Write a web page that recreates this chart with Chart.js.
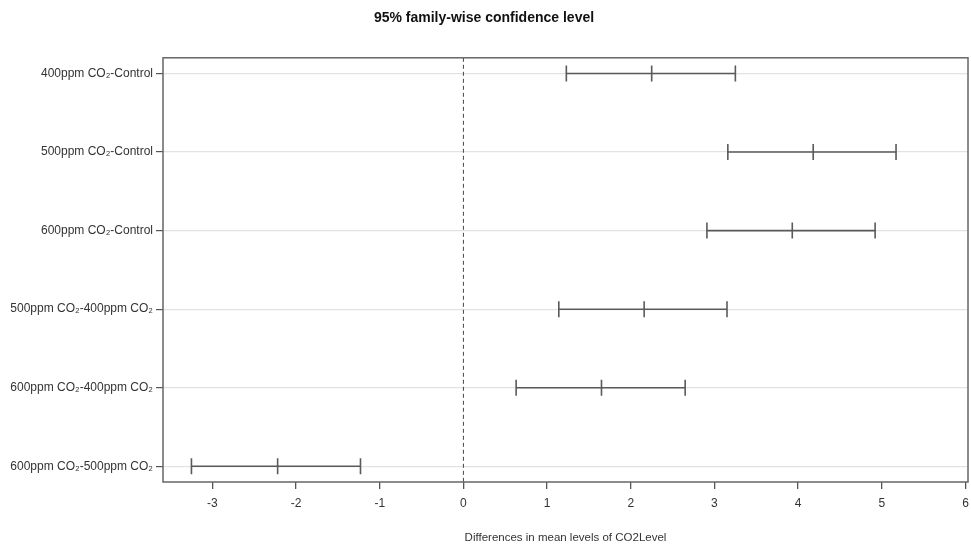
<!DOCTYPE html>
<html>
<head>
<meta charset="utf-8">
<script src="https://cdn.jsdelivr.net/npm/chart.js@4/dist/chart.umd.min.js"></script>
<style>
  body { margin: 0; background: #fff; }
  #wrap { width: 971px; height: 547px; }
</style>
</head>
<body>
<div id="wrap"><canvas id="tukey"></canvas></div>
<script>
// comparisons, top to bottom
const comparisons = [
  '400ppm CO₂-Control',
  '500ppm CO₂-Control',
  '600ppm CO₂-Control',
  '500ppm CO₂-400ppm CO₂',
  '600ppm CO₂-400ppm CO₂',
  '600ppm CO₂-500ppm CO₂'
];
const lwr  = [1.23, 3.16, 2.91, 1.14, 0.63, -3.25];
const diff = [2.25, 4.18, 3.93, 2.16, 1.65, -2.22];
const upr  = [3.25, 5.17, 4.92, 3.15, 2.65, -1.23];
const xTicks = [-3, -2, -1, 0, 1, 2, 3, 4, 5, 6];

const barColor = '#5a5a5a';

// one dataset per comparison: lower - mean - upper with vertical end marks
const intervalSets = comparisons.map((name, i) => ({
  label: name,
  data: [
    { x: lwr[i], y: i + 1 },
    { x: diff[i], y: i + 1 },
    { x: upr[i], y: i + 1 }
  ],
  showLine: true,
  borderColor: barColor,
  borderWidth: 1.6,
  pointStyle: 'line',
  pointRotation: 90,
  pointRadius: 8,
  pointBorderColor: barColor,
  pointBorderWidth: 1.6
}));

// dashed reference line at zero
const zeroLine = {
  label: 'zero',
  data: [{ x: 0, y: 0.8 }, { x: 0, y: 6.2 }],
  showLine: true,
  borderColor: '#444',
  borderWidth: 1,
  borderDash: [4, 3],
  pointRadius: 0
};

const boxPlugin = {
  id: 'box',
  afterDraw(chart) {
    const { ctx, chartArea: a } = chart;
    ctx.save();
    ctx.strokeStyle = '#666';
    ctx.lineWidth = 1.5;
    ctx.strokeRect(a.left, a.top, a.right - a.left, a.bottom - a.top);
    ctx.restore();
  }
};

Chart.defaults.font.family = '"Liberation Sans", Arial, sans-serif';
Chart.defaults.color = '#333';

new Chart(document.getElementById('tukey'), {
  type: 'scatter',
  data: { datasets: [zeroLine, ...intervalSets] },
  plugins: [boxPlugin],
  options: {
    responsive: true,
    maintainAspectRatio: false,
    animation: false,
    layout: { autoPadding: false, padding: { left: 0, right: 3, top: 0, bottom: 0 } },
    plugins: {
      legend: { display: false },
      tooltip: { enabled: false },
      title: {
        display: true,
        text: '95% family-wise confidence level',
        color: '#111',
        font: { size: 14, weight: 'bold' },
        padding: { top: 10, bottom: 31 }
      }
    },
    scales: {
      x: {
        type: 'linear',
        min: -3.59,
        max: 6.03,
        afterBuildTicks: s => { s.ticks = xTicks.map(v => ({ value: v })); },
        afterFit: s => { s.height = 65; },
        border: { display: false },
        grid: { drawOnChartArea: false, tickLength: 7, tickColor: '#555', lineWidth: 1.3 },
        ticks: {
          autoSkip: false,
          maxRotation: 0,
          padding: 0,
          font: { size: 12, lineHeight: 2.4 },
          color: '#333'
        },
        title: {
          display: true,
          text: 'Differences in mean levels of CO2Level',
          font: { size: 11.5 },
          color: '#333',
          padding: { top: 0, bottom: 2 }
        }
      },
      y: {
        type: 'linear',
        min: 0.8,
        max: 6.2,
        reverse: true,
        afterBuildTicks: s => { s.ticks = comparisons.map((c, i) => ({ value: i + 1 })); },
        afterFit: s => { s.width = 163; },
        border: { display: false },
        grid: { color: '#e2e2e2', lineWidth: 1.2, tickLength: 7, tickColor: '#555' },
        ticks: {
          autoSkip: false,
          padding: 3,
          font: { size: 12 },
          color: '#333',
          callback: v => comparisons[Math.round(v) - 1]
        }
      }
    }
  }
});
</script>
</body>
</html>
